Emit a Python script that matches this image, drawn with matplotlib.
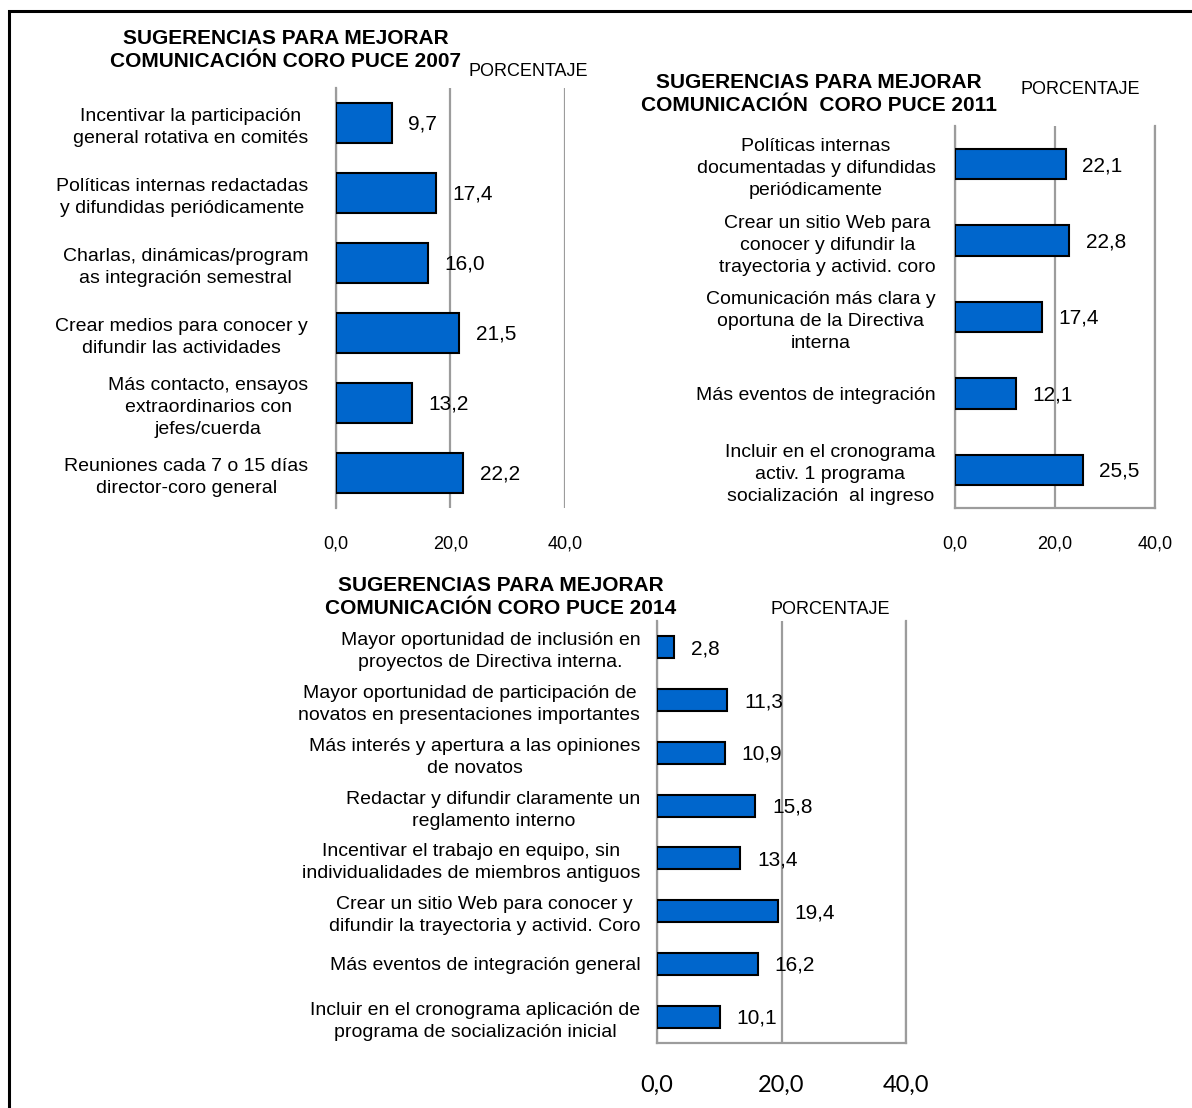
import matplotlib.pyplot as plt
from matplotlib.patches import Rectangle

plt.rcParams["font.family"] = ["Liberation Sans", "DejaVu Sans"]

W, H = 1192, 1108

# --- 2007 ---
labels_2007 = [
    "Incentivar la participación\ngeneral rotativa en comités",
    "Políticas internas redactadas\ny difundidas periódicamente",
    "Charlas, dinámicas/program\nas integración semestral",
    "Crear medios para conocer y\ndifundir las actividades",
    "Más contacto, ensayos\nextraordinarios con\njefes/cuerda",
    "Reuniones cada 7 o 15 días\ndirector-coro general",
]
values_2007 = [9.7, 17.4, 16.0, 21.5, 13.2, 22.2]

# --- 2011 ---
labels_2011 = [
    "Políticas internas\ndocumentadas y difundidas\nperiódicamente",
    "Crear un sitio Web para\nconocer y difundir la\ntrayectoria y activid. coro",
    "Comunicación más clara y\noportuna de la Directiva\ninterna",
    "Más eventos de integración",
    "Incluir en el cronograma\nactiv. 1 programa\nsocialización  al ingreso",
]
values_2011 = [22.1, 22.8, 17.4, 12.1, 25.5]

# --- 2014 ---
labels_2014 = [
    "Mayor oportunidad de inclusión en\nproyectos de Directiva interna.",
    "Mayor oportunidad de participación de\nnovatos en presentaciones importantes",
    "Más interés y apertura a las opiniones\nde novatos",
    "Redactar y difundir claramente un\nreglamento interno",
    "Incentivar el trabajo en equipo, sin\nindividualidades de miembros antiguos",
    "Crear un sitio Web para conocer y\ndifundir la trayectoria y activid. Coro",
    "Más eventos de integración general",
    "Incluir en el cronograma aplicación de\nprograma de socialización inicial",
]
values_2014 = [2.8, 11.3, 10.9, 15.8, 13.4, 19.4, 16.2, 10.1]

x_ticks = [0, 20, 40]
x_ticklabels = ["0,0", "20,0", "40,0"]

title_2007 = "SUGERENCIAS PARA MEJORAR\nCOMUNICACIÓN CORO PUCE 2007"
title_2011 = "SUGERENCIAS PARA MEJORAR\nCOMUNICACIÓN  CORO PUCE 2011"
title_2014 = "SUGERENCIAS PARA MEJORAR\nCOMUNICACIÓN CORO PUCE 2014"

BAR_COLOR = "#0066CC"
GRID_COLOR = "#9C9C9C"


def px_axes(fig, left, top, right, bottom):
    return fig.add_axes([left / W, 1 - bottom / H, (right - left) / W, (bottom - top) / H])


def px_text(fig, x, y, s, **kw):
    fig.text(x / W, 1 - y / H, s, **kw)


def draw_panel(ax, labels, values, bar_h, label_pad, tick_pad, boxed,
               tick_font=None, tick_size=13, val_size=15):
    pos = list(range(len(values)))
    ax.barh(pos, values, height=bar_h, color=BAR_COLOR, edgecolor="black",
            linewidth=1.5, zorder=3)
    ax.set_xlim(0, 40)
    ax.set_ylim(len(values) - 0.5, -0.5)
    ax.set_yticks(pos)
    ax.set_yticklabels(labels, fontsize=14)
    for lbl in ax.get_yticklabels():
        lbl.set_multialignment("center")
        lbl.set_linespacing(1.38)
    ax.set_xticks(x_ticks)
    kw = {"fontsize": tick_size}
    if tick_font:
        kw["family"] = tick_font
    ax.set_xticklabels(x_ticklabels, **kw)
    ax.tick_params(axis="y", length=0, pad=label_pad)
    ax.tick_params(axis="x", length=0, pad=tick_pad)
    ax.xaxis.grid(True, color=GRID_COLOR, linewidth=1.6, zorder=0)
    ax.set_axisbelow(True)
    for side in ("top", "right", "bottom", "left"):
        ax.spines[side].set_visible(False)
    ax.spines["left"].set_visible(True)
    ax.spines["left"].set_color(GRID_COLOR)
    ax.spines["left"].set_linewidth(1.6)
    if boxed:
        for side in ("right", "bottom"):
            ax.spines[side].set_visible(True)
            ax.spines[side].set_color(GRID_COLOR)
            ax.spines[side].set_linewidth(1.6)
    for p, v in zip(pos, values):
        ax.annotate(f"{v:.1f}".replace(".", ","), (v, p), xytext=(12, -1),
                    textcoords="offset points", ha="left", va="center",
                    fontsize=val_size, zorder=4)


fig = plt.figure(figsize=(W / 100, H / 100), dpi=100)

# outer frame, open at the right and bottom edges
fig.patches.append(Rectangle((9 / W, -0.05), 1.1, 1 - 11 / H + 0.05,
                             transform=fig.transFigure, fill=False,
                             edgecolor="black", linewidth=2.2))

title_kw = dict(ha="center", va="center", fontsize=15, fontweight="bold",
                linespacing=1.26)

ax1 = px_axes(fig, 336, 88, 565, 508)
draw_panel(ax1, labels_2007, values_2007, 0.58, 20, 20, False)
px_text(fig, 286, 50, title_2007, **title_kw)
px_text(fig, 528, 72, "PORCENTAJE", ha="center", va="center", fontsize=13)

ax2 = px_axes(fig, 955, 126, 1155, 508)
draw_panel(ax2, labels_2011, values_2011, 0.4, 14, 20, True)
px_text(fig, 819, 94, title_2011, **title_kw)
px_text(fig, 1080, 89, "PORCENTAJE", ha="center", va="center", fontsize=13)

ax3 = px_axes(fig, 657, 621, 906, 1043)
draw_panel(ax3, labels_2014, values_2014, 0.42, 12, 23, True,
           tick_font="Lato", tick_size=17, val_size=15)
px_text(fig, 501, 597, title_2014, **title_kw)
px_text(fig, 830, 609, "PORCENTAJE", ha="center", va="center", fontsize=13)

fig.savefig("out.png", dpi=100, facecolor="white")
